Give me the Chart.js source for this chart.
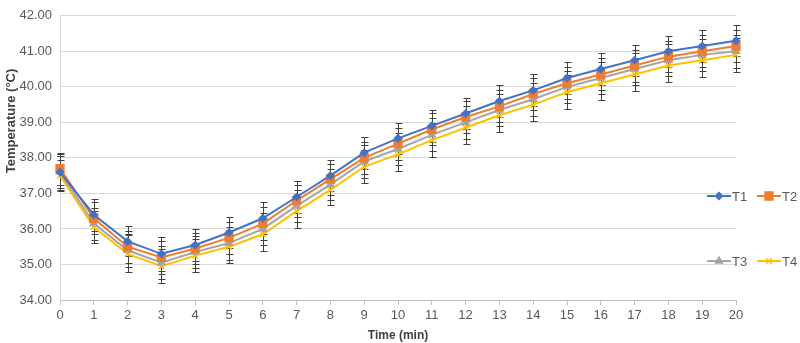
<!DOCTYPE html>
<html>
<head>
<meta charset="utf-8">
<script src="https://cdn.jsdelivr.net/npm/chart.js@4.4.1/dist/chart.umd.min.js"></script>
<style>
  html, body { margin: 0; padding: 0; background: #fff; }
  #wrap { width: 800px; height: 343px; position: relative; }
</style>
</head>
<body>
<div id="wrap"><canvas id="tempChart"></canvas></div>
<script>
// time axis (min)
const timeLabels = ['0','1','2','3','4','5','6','7','8','9','10','11','12','13','14','15','16','17','18','19','20'];

// mean temperatures (°C)
const t1 = [37.60, 36.40, 35.65, 35.30, 35.55, 35.90, 36.30, 36.90, 37.50, 38.15, 38.55, 38.90, 39.25, 39.60, 39.90, 40.25, 40.50, 40.75, 41.00, 41.15, 41.30];
const t2 = [37.70, 36.30, 35.50, 35.20, 35.45, 35.75, 36.15, 36.80, 37.40, 38.00, 38.40, 38.80, 39.15, 39.45, 39.80, 40.10, 40.35, 40.60, 40.85, 41.00, 41.15];
const t3 = [37.60, 36.15, 35.40, 35.05, 35.35, 35.60, 36.00, 36.65, 37.25, 37.90, 38.25, 38.65, 39.00, 39.35, 39.65, 40.00, 40.25, 40.50, 40.75, 40.90, 41.00];
const t4 = [37.50, 36.05, 35.30, 34.95, 35.25, 35.50, 35.85, 36.50, 37.10, 37.75, 38.10, 38.50, 38.85, 39.20, 39.50, 39.85, 40.10, 40.35, 40.60, 40.75, 40.90];

// standard deviations (error bars)
const errT1 = [0.50, 0.45, 0.42, 0.47, 0.45, 0.44, 0.45, 0.44, 0.43, 0.45, 0.44, 0.45, 0.44, 0.46, 0.45, 0.44, 0.45, 0.44, 0.43, 0.45, 0.43];
const errT2 = [0.45, 0.45, 0.45, 0.46, 0.45, 0.45, 0.46, 0.45, 0.44, 0.45, 0.45, 0.45, 0.45, 0.45, 0.46, 0.45, 0.45, 0.45, 0.44, 0.45, 0.45];
const errT3 = [0.46, 0.45, 0.47, 0.47, 0.46, 0.46, 0.46, 0.46, 0.44, 0.46, 0.46, 0.46, 0.46, 0.46, 0.46, 0.46, 0.46, 0.46, 0.45, 0.46, 0.47];
const errT4 = [0.43, 0.45, 0.52, 0.48, 0.47, 0.47, 0.46, 0.47, 0.42, 0.47, 0.47, 0.48, 0.47, 0.47, 0.47, 0.47, 0.47, 0.47, 0.46, 0.47, 0.48];

const yTicks = [34, 35, 36, 37, 38, 39, 40, 41, 42];

const FONT = '"Liberation Sans", Arial, sans-serif';
const TICK_COLOR = '#595959';

// error bars, drawn under the lines
const errorBars = {
    id: 'errorBars',
    beforeDatasetsDraw(chart) {
        const ctx = chart.ctx;
        const y = chart.scales.y;
        ctx.save();
        ctx.strokeStyle = '#404040';
        ctx.lineWidth = 1;
        chart.data.datasets.forEach((ds, i) => {
            const meta = chart.getDatasetMeta(i);
            meta.data.forEach((pt, j) => {
                const e = ds.errors[j];
                const yTop = Math.round(y.getPixelForValue(ds.data[j] + e)) + 0.5;
                const yBot = Math.round(y.getPixelForValue(ds.data[j] - e)) + 0.5;
                const x = Math.round(pt.x) + 0.5;
                ctx.beginPath();
                ctx.moveTo(x, yTop); ctx.lineTo(x, yBot);
                ctx.moveTo(x - 3, yTop); ctx.lineTo(x + 4, yTop);
                ctx.moveTo(x - 3, yBot); ctx.lineTo(x + 4, yBot);
                ctx.stroke();
            });
        });
        ctx.restore();
    }
};

// y title and the 2x2 legend on the right
const extras = {
    id: 'extras',
    afterDraw(chart) {
        const ctx = chart.ctx;
        ctx.save();
        ctx.fillStyle = '#404040';
        ctx.font = 'bold 13px ' + FONT;
        ctx.textAlign = 'center';
        ctx.textBaseline = 'middle';
        ctx.translate(11, 121);
        ctx.rotate(-Math.PI / 2);
        ctx.fillText('Temperature (°C)', 0, 0);
        ctx.restore();

        const spots = [[707, 196], [757, 196], [707, 261], [757, 261]];
        ctx.save();
        ctx.font = '13px ' + FONT;
        ctx.textBaseline = 'middle';
        ctx.textAlign = 'left';
        chart.data.datasets.forEach((ds, i) => {
            const [lx, ly] = spots[i];
            ctx.strokeStyle = ds.borderColor;
            ctx.lineWidth = 2;
            ctx.beginPath();
            ctx.moveTo(lx, ly); ctx.lineTo(lx + 24, ly);
            ctx.stroke();
            ctx.fillStyle = ds.backgroundColor;
            ctx.strokeStyle = ds.borderColor;
            ctx.lineWidth = 1.5;
            Chart.helpers.drawPoint(ctx, { pointStyle: ds.pointStyle, radius: ds.pointRadius, rotation: 0, borderWidth: 1.5 }, lx + 12, ly);
            ctx.fillStyle = TICK_COLOR;
            ctx.fillText(ds.label, lx + 25, ly + 1);
        });
        ctx.restore();
    }
};

function series(label, data, errors, color, style, radius) {
    return {
        label, data, errors,
        borderColor: color,
        backgroundColor: color,
        pointBackgroundColor: color,
        pointBorderColor: color,
        borderWidth: 2,
        pointStyle: style,
        pointRadius: radius,
        pointBorderWidth: 1.5,
        tension: 0
    };
}

new Chart(document.getElementById('tempChart'), {
    type: 'line',
    data: {
        labels: timeLabels,
        datasets: [
            series('T1', t1, errT1, '#4472C4', 'rectRot', 3.5),
            series('T2', t2, errT2, '#ED7D31', 'rect', 5.5),
            series('T3', t3, errT3, '#A5A5A5', 'triangle', 4),
            series('T4', t4, errT4, '#FFC000', 'crossRot', 4)
        ]
    },
    options: {
        responsive: true,
        maintainAspectRatio: false,
        animation: false,
        layout: { padding: { left: 0, right: 64, top: 11, bottom: 0 } },
        plugins: {
            legend: { display: false },
            tooltip: { enabled: false }
        },
        scales: {
            x: {
                grid: { drawOnChartArea: false, drawTicks: true, tickLength: 5, color: '#bfbfbf' },
                border: { color: '#bfbfbf' },
                ticks: { color: TICK_COLOR, font: { family: FONT, size: 13 }, padding: 3, maxRotation: 0, autoSkip: false },
                title: { display: true, text: 'Time (min)', color: '#404040', font: { family: FONT, size: 12, weight: 'bold' }, padding: { top: 2, bottom: 0 } },
                afterFit(scale) { scale.height = 43; }
            },
            y: {
                min: 34,
                max: 42,
                afterBuildTicks(scale) { scale.ticks = yTicks.map(v => ({ value: v })); },
                grid: { color: '#d9d9d9', drawTicks: false },
                border: { color: '#d9d9d9' },
                ticks: { color: TICK_COLOR, font: { family: FONT, size: 13 }, padding: 8, callback: v => Number(v).toFixed(2) },
                afterFit(scale) { scale.width = 60; }
            }
        }
    },
    plugins: [errorBars, extras]
});
</script>
</body>
</html>
